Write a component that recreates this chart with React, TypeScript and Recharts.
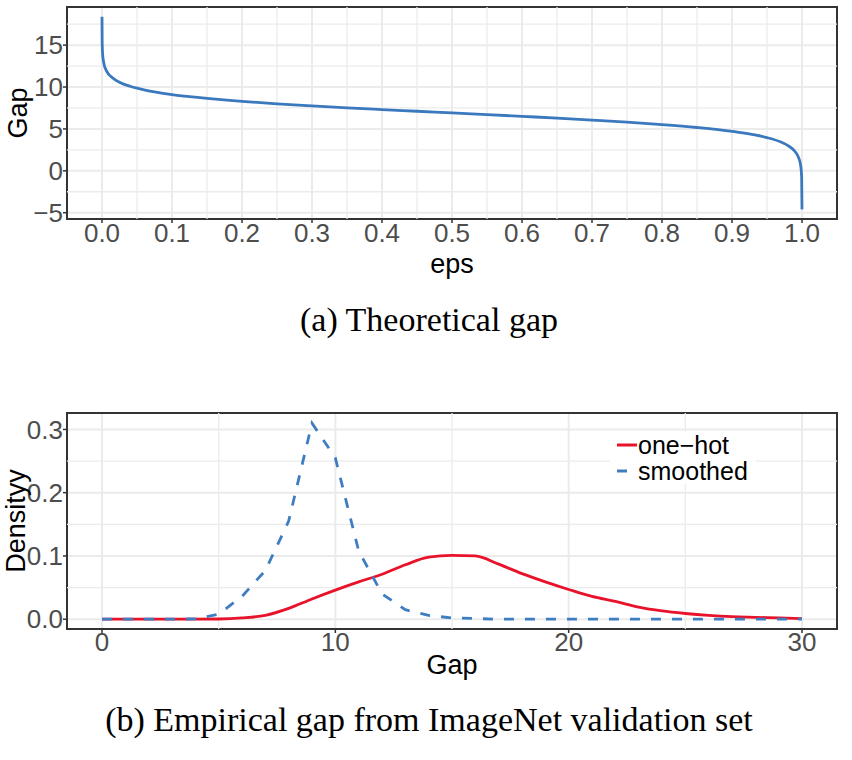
import React from "react";
import {
  LineChart,
  Line,
  XAxis,
  YAxis,
  CartesianGrid,
  ReferenceLine,
  ReferenceArea,
  Legend,
} from "recharts";

// (a) theoretical gap vs eps
const epsValues = [
  0, 0.0002, 0.001, 0.003, 0.007, 0.015, 0.02, 0.03, 0.04, 0.05, 0.06, 0.075,
  0.1, 0.125, 0.15, 0.175, 0.2, 0.25, 0.3, 0.35, 0.4, 0.45, 0.5, 0.55, 0.6,
  0.65, 0.7, 0.75, 0.8, 0.85, 0.9, 0.93, 0.95, 0.97, 0.98, 0.99, 0.995, 0.998,
  0.9995, 1.0,
];
const gapValues = [
  18.4, 15.5, 13.8, 12.7, 11.85, 11.1, 10.8, 10.38, 10.09, 9.86, 9.67, 9.43,
  9.1, 8.85, 8.64, 8.46, 8.29, 8.0, 7.75, 7.52, 7.31, 7.11, 6.91, 6.71, 6.5,
  6.29, 6.06, 5.81, 5.52, 5.17, 4.71, 4.32, 3.96, 3.43, 3.01, 2.31, 1.6, 0.7,
  -0.7, -4.6,
];
const epsTicks = [0, 0.1, 0.2, 0.3, 0.4, 0.5, 0.6, 0.7, 0.8, 0.9, 1.0];
const epsMinor = [0.05, 0.15, 0.25, 0.35, 0.45, 0.55, 0.65, 0.75, 0.85, 0.95];
const gapTicks = [-5, 0, 5, 10, 15];
const gapMinor = [-2.5, 2.5, 7.5, 12.5, 17.5];
const epsDomain = [-0.05, 1.05];
const gapDomain = [-5.75, 19.55];

// (b) empirical gap densities
const binValues = [
  0, 1, 2, 3, 4, 5, 6, 7, 8, 9, 10, 11, 12, 13, 14, 15, 16, 17, 18, 19, 20, 21,
  22, 23, 24, 25, 26, 27, 28, 29, 30,
];
const oneHotDensity = [
  0, 0, 0, 0, 0, 0.0003, 0.002, 0.006, 0.017, 0.032, 0.046, 0.059, 0.071,
  0.086, 0.098, 0.101, 0.1, 0.087, 0.072, 0.059, 0.047, 0.036, 0.028, 0.019,
  0.013, 0.009, 0.006, 0.004, 0.003, 0.002, 0.001,
];
const smoothedDensity = [
  0, 0, 0, 0, 0.0005, 0.008, 0.036, 0.077, 0.155, 0.31, 0.255, 0.108, 0.04,
  0.015, 0.006, 0.002, 0.001, 0, 0, 0, 0, 0, 0, 0, 0, 0, 0, 0, 0, 0, 0,
];
const binTicks = [0, 10, 20, 30];
const binMinor = [5, 15, 25];
const densityTicks = [0, 0.1, 0.2, 0.3];
const densityMinor = [0.05, 0.15, 0.25];
const binDomain = [-1.5, 31.5];
const densityDomain = [-0.0155, 0.326];

const theoryData = epsValues.map((e, i) => ({ eps: e, gap: gapValues[i] }));
const densityData = binValues.map((b, i) => ({
  gap: b,
  oneHot: oneHotDensity[i],
  smoothed: smoothedDensity[i],
}));

const FONT = "'Liberation Sans', Arial, Helvetica, sans-serif";
const SERIF = "'Liberation Serif', 'Times New Roman', serif";
const GRID = "#EBEBEB";
const tickStyle = { fontSize: 26, fill: "#4D4D4D", fontFamily: FONT };
const tickLine = { stroke: "#333333", strokeWidth: 1.5 };
const titleStyle = { fontSize: 27, fill: "#000", fontFamily: FONT };

function fmtSigned(v: number) {
  return v < 0 ? "\u2212" + Math.abs(v) : String(v);
}

function DensityLegend({ payload }: any) {
  return (
    <div
      style={{
        background: "#fff",
        padding: "0 8px 0 7px",
        fontFamily: FONT,
        fontSize: 25,
        lineHeight: "26px",
        color: "#000",
      }}
    >
      {(payload || []).map((p: any) => (
        <div
          key={p.value}
          style={{ display: "flex", alignItems: "center", whiteSpace: "nowrap", height: 26 }}
        >
          <svg width={20} height={10} style={{ marginRight: 1 }}>
            <line
              x1={0}
              y1={5}
              x2={20}
              y2={5}
              stroke={p.color}
              strokeWidth={3}
              strokeDasharray={p.payload?.strokeDasharray}
            />
          </svg>
          <span>{p.value}</span>
        </div>
      ))}
    </div>
  );
}

export default function App() {
  return (
    <div
      style={{
        position: "absolute",
        left: 0,
        top: 0,
        width: 852,
        height: 760,
        background: "#fff",
      }}
    >
      <div style={{ position: "absolute", left: 0, top: 0 }}>
        <LineChart
          width={852}
          height={290}
          data={theoryData}
          margin={{ top: 7, right: 15, bottom: 11, left: 0 }}
        >
          <CartesianGrid stroke={GRID} strokeWidth={2} />
          {epsMinor.map((v) => (
            <ReferenceLine key={"x" + v} x={v} stroke={GRID} strokeWidth={1.3} />
          ))}
          {gapMinor.map((v) => (
            <ReferenceLine key={"y" + v} y={v} stroke={GRID} strokeWidth={1.3} />
          ))}
          <XAxis
            dataKey="eps"
            type="number"
            domain={epsDomain}
            ticks={epsTicks}
            allowDataOverflow
            interval={0}
            height={60}
            axisLine={false}
            tickLine={tickLine}
            tickSize={4}
            tickMargin={1}
            tick={tickStyle}
            tickFormatter={(v: number) => v.toFixed(1)}
            label={{ value: "eps", position: "insideBottom", offset: 6, style: titleStyle }}
          />
          <YAxis
            type="number"
            domain={gapDomain}
            ticks={gapTicks}
            allowDataOverflow
            interval={0}
            width={67}
            axisLine={false}
            tickLine={tickLine}
            tickSize={4}
            tickMargin={0}
            tick={tickStyle}
            tickFormatter={fmtSigned}
            label={{
              value: "Gap",
              angle: -90,
              position: "insideLeft",
              offset: 17,
              style: { ...titleStyle, textAnchor: "middle" },
            }}
          />
          <Line
            type="monotone"
            dataKey="gap"
            stroke="#3A79BD"
            strokeWidth={2.8}
            dot={false}
            activeDot={false}
            isAnimationActive={false}
          />
          <ReferenceArea
            x1={epsDomain[0]}
            x2={epsDomain[1]}
            y1={gapDomain[0]}
            y2={gapDomain[1]}
            fill="none"
            fillOpacity={0}
            stroke="#333333"
            strokeWidth={2}
            ifOverflow="visible"
          />
        </LineChart>
      </div>

      <div
        style={{
          position: "absolute",
          left: 0,
          top: 300,
          width: 858,
          textAlign: "center",
          fontFamily: SERIF,
          fontSize: 34,
          lineHeight: "40px",
          color: "#000",
        }}
      >
        (a) Theoretical gap
      </div>

      <div style={{ position: "absolute", left: 0, top: 380 }}>
        <LineChart
          width={852}
          height={310}
          data={densityData}
          margin={{ top: 33, right: 15, bottom: 1, left: 0 }}
        >
          <CartesianGrid stroke={GRID} strokeWidth={2} />
          {binMinor.map((v) => (
            <ReferenceLine key={"x" + v} x={v} stroke={GRID} strokeWidth={1.3} />
          ))}
          {densityMinor.map((v) => (
            <ReferenceLine key={"y" + v} y={v} stroke={GRID} strokeWidth={1.3} />
          ))}
          <XAxis
            dataKey="gap"
            type="number"
            domain={binDomain}
            ticks={binTicks}
            allowDataOverflow
            interval={0}
            height={60}
            axisLine={false}
            tickLine={tickLine}
            tickSize={4}
            tickMargin={0}
            tick={tickStyle}
            label={{ value: "Gap", position: "insideBottom", offset: 15, style: titleStyle }}
          />
          <YAxis
            type="number"
            domain={densityDomain}
            ticks={densityTicks}
            allowDataOverflow
            interval={0}
            width={67}
            axisLine={false}
            tickLine={tickLine}
            tickSize={4}
            tickMargin={0}
            tick={tickStyle}
            tickFormatter={(v: number) => v.toFixed(1)}
            label={{
              value: "Densityy",
              angle: -90,
              position: "insideLeft",
              offset: 15,
              style: { ...titleStyle, textAnchor: "middle" },
            }}
          />
          <Line
            type="monotone"
            dataKey="oneHot"
            name={"one\u2212hot"}
            stroke="#E8132B"
            strokeWidth={2.8}
            dot={false}
            activeDot={false}
            isAnimationActive={false}
          />
          <Line
            type="linear"
            dataKey="smoothed"
            name="smoothed"
            stroke="#3F7DC1"
            strokeWidth={2.8}
            strokeDasharray="10 11"
            dot={false}
            activeDot={false}
            isAnimationActive={false}
          />
          <ReferenceArea
            x1={binDomain[0]}
            x2={binDomain[1]}
            y1={densityDomain[0]}
            y2={densityDomain[1]}
            fill="none"
            fillOpacity={0}
            stroke="#333333"
            strokeWidth={2}
            ifOverflow="visible"
          />
          <Legend
            layout="vertical"
            align="center"
            verticalAlign="middle"
            content={<DensityLegend />}
            wrapperStyle={{ left: 610, top: 52 }}
          />
        </LineChart>
      </div>

      <div
        style={{
          position: "absolute",
          left: 0,
          top: 700,
          width: 858,
          textAlign: "center",
          fontFamily: SERIF,
          fontSize: 34,
          lineHeight: "40px",
          color: "#000",
        }}
      >
        (b) Empirical gap from ImageNet validation set
      </div>
    </div>
  );
}
